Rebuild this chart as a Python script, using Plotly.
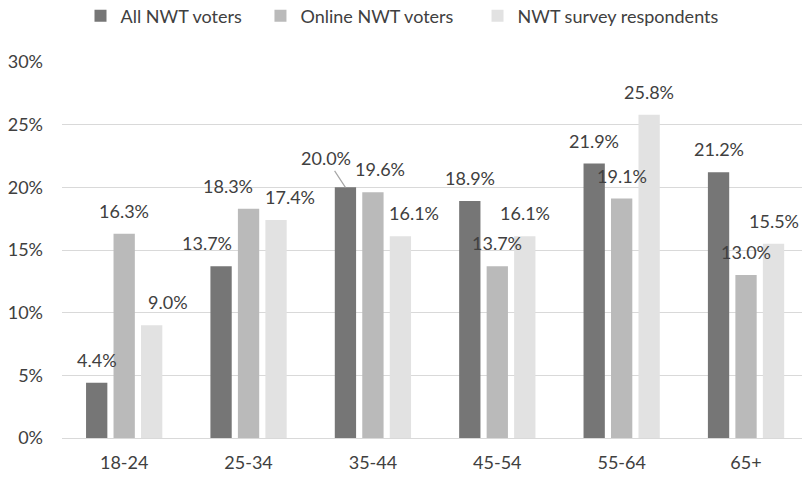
import plotly.graph_objects as go

# Age groups and share of each group (%)
age_groups = ["18-24", "25-34", "35-44", "45-54", "55-64", "65+"]
all_voters = [4.4, 13.7, 20.0, 18.9, 21.9, 21.2]
online_voters = [16.3, 18.3, 19.6, 13.7, 19.1, 13.0]
survey_respondents = [9.0, 17.4, 16.1, 16.1, 25.8, 15.5]

series_names = ["All NWT voters", "Online NWT voters", "NWT survey respondents"]
series_values = [all_voters, online_voters, survey_respondents]
series_colors = ["#767676", "#bababa", "#e2e2e2"]

# One legend box per series so the entries can be spaced freely along the top
legend_ids = ["legend", "legend2", "legend3"]
legend_x = [0.0250, 0.2682, 0.5615]

# Label placement: horizontal offset of each bar in its group (px) and manual nudges
bar_offsets = [-27.5, 0.0, 27.5]
label_nudge_x = [
    [0, -14, 0, 0, 0, 0],
    [0, -21, 7, 0, 0, 0],
    [16, 14, 14, 0, 0, 0],
]
# Labels pulled away from their bar and tied back with a leader line: (series, category) -> (dx, dy)
leader_labels = {(0, 2): (-19, -29)}

FONT = "Lato, 'Open Sans', sans-serif"
TEXT_COLOR = "#404040"
LABEL_SIZE = 18

fig = go.Figure()
for name, vals, color, lg in zip(series_names, series_values, series_colors, legend_ids):
    fig.add_trace(go.Bar(name=name, x=age_groups, y=vals, marker_color=color,
                         marker_line_width=0, hoverinfo="skip", legend=lg,
                         showlegend=True))

annotations = []
for s, vals in enumerate(series_values):
    for c, v in enumerate(vals):
        text = f"{v:.1f}%"
        if (s, c) in leader_labels:
            dx, dy = leader_labels[(s, c)]
            annotations.append(dict(
                x=age_groups[c], y=v, xref="x", yref="y", text=text,
                xshift=bar_offsets[s], showarrow=True, arrowhead=0,
                arrowwidth=1.2, arrowcolor="#a6a6a6", ax=dx, ay=dy,
                standoff=0, font=dict(family=FONT, size=LABEL_SIZE, color=TEXT_COLOR),
            ))
        else:
            annotations.append(dict(
                x=age_groups[c], y=v, xref="x", yref="y", text=text,
                xshift=bar_offsets[s] + label_nudge_x[s][c], yshift=10,
                yanchor="bottom", showarrow=False,
                font=dict(family=FONT, size=LABEL_SIZE, color=TEXT_COLOR),
            ))

legend_style = dict(orientation="h", xanchor="left", yref="container", y=0.9665,
                    yanchor="middle",
                    font=dict(family=FONT, size=LABEL_SIZE, color=TEXT_COLOR),
                    itemwidth=30, bgcolor="rgba(0,0,0,0)", borderwidth=0)
legends = {lg: dict(legend_style, x=lx) for lg, lx in zip(legend_ids, legend_x)}

fig.update_layout(
    width=802, height=477,
    margin=dict(l=62, r=0, t=62, b=39, autoexpand=False),
    plot_bgcolor="white", paper_bgcolor="white",
    showlegend=True,
    barmode="group", bargap=0.337, bargroupgap=0.225,
    font=dict(family=FONT, size=LABEL_SIZE, color=TEXT_COLOR),
    annotations=annotations,
    xaxis=dict(range=[-0.5, 5.45], showgrid=False, showline=False, zeroline=False,
               ticks="", ticklabelstandoff=12, tickfont=dict(size=LABEL_SIZE)),
    yaxis=dict(range=[0, 30], dtick=5, ticksuffix="%", showgrid=True,
               gridcolor="#d9d9d9", gridwidth=1.3, zeroline=True, zerolinecolor="#d9d9d9",
               zerolinewidth=1.3, showline=False, ticks="", ticklabelstandoff=18,
               tickfont=dict(size=LABEL_SIZE)),
    **legends,
)

fig.write_html("out.html")
